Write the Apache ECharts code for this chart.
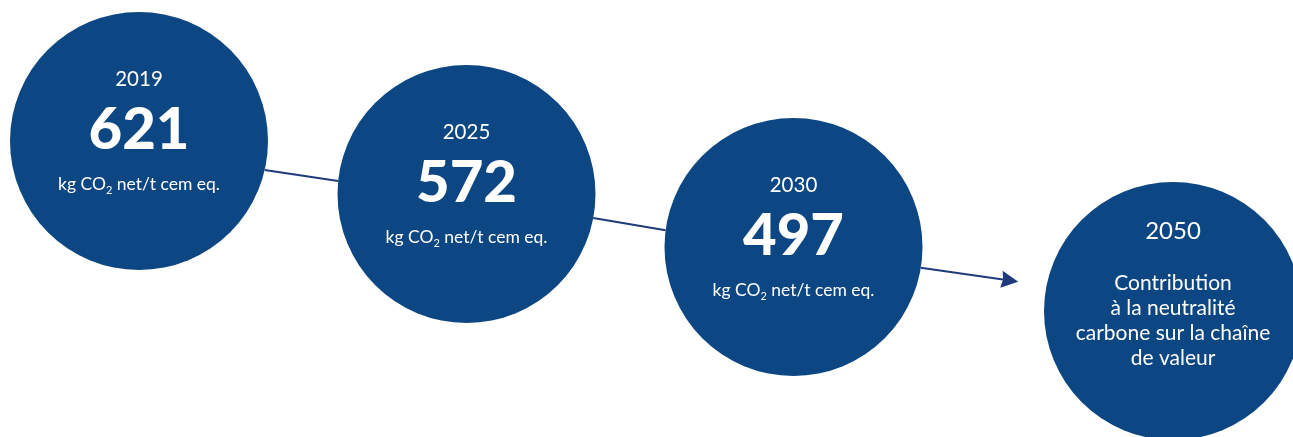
<!DOCTYPE html>
<html>
<head>
<meta charset="utf-8">
<script src="https://cdn.jsdelivr.net/npm/echarts@6/dist/echarts.min.js"></script>
<style>
  html, body { margin: 0; padding: 0; background: #ffffff; }
  #chart { width: 1293px; height: 437px; }
</style>
</head>
<body>
<div id="chart"></div>
<script>
// Milestones: net CO2 intensity per tonne of cementitious product
const years = ['2019', '2025', '2030', '2050'];
const intensity = [621, 572, 497, null];
const unitPrefix = 'kg CO';
const unitSub = '2';
const unitSuffix = ' net/t cem eq.';
const goalLines = ['Contribution', 'à la neutralité', 'carbone sur la chaîne', 'de valeur'];

// Layout of the stepped path, in canvas units (x right, y down)
const nodeX = [139, 466.5, 793.5, 1173];
const nodeY = [141, 194, 247, 311];
const RADIUS = 129;
// Each connector leaves one circle and reaches the next at the given angles (degrees);
// the last one stops short of its circle and ends in an arrowhead.
const connectors = [
  { from: 0, to: 1, a0: 13.0, a1: 185.8, gap: 0 },
  { from: 1, to: 2, a0: 10.7, a1: 187.5, gap: 0 },
  { from: 2, to: 3, a0: 9.3, a1: 190.6, gap: 37 }
];

const FILL = '#0d4783';
const LINE = '#1d3b7b';
const FONT = 'Lato, "Open Sans", sans-serif';

function rimPoint(i, deg, gap) {
  const a = deg * Math.PI / 180;
  const r = RADIUS + gap;
  return [nodeX[i] + r * Math.cos(a), nodeY[i] + r * Math.sin(a)];
}

const nodes = years.map((y, i) => {
  const item = { value: [nodeX[i], nodeY[i]], name: y };
  if (intensity[i] == null) {
    item.label = {
      offset: [0, -30],
      formatter: ['{y4|' + y + '}'].concat(goalLines.map(t => '{g|' + t + '}')).join('\n')
    };
  } else {
    item.label = {
      offset: [0, -8.5],
      formatter: '{y|' + y + '}\n{big|' + intensity[i] + '}\n{u|' + unitPrefix + '}{sub|' + unitSub + '}{u|' + unitSuffix + '}'
    };
  }
  return item;
});

const plainLinks = connectors.filter(c => c.gap === 0).map(c => ({
  coords: [rimPoint(c.from, c.a0, 0), rimPoint(c.to, c.a1, 0)]
}));
const arrowLinks = connectors.filter(c => c.gap > 0).map(c => ({
  coords: [rimPoint(c.from, c.a0, 0), rimPoint(c.to, c.a1, c.gap)]
}));

const chart = echarts.init(document.getElementById('chart'), null, { renderer: 'canvas' });
chart.setOption({
  animation: false,
  backgroundColor: '#ffffff',
  grid: { left: 0, right: 0, top: 0, bottom: 0 },
  xAxis: { type: 'value', min: 0, max: 1293, show: false },
  yAxis: { type: 'value', min: 0, max: 437, inverse: true, show: false },
  series: [
    {
      type: 'lines',
      coordinateSystem: 'cartesian2d',
      z: 1,
      silent: true,
      symbol: ['none', 'none'],
      lineStyle: { color: LINE, width: 2, opacity: 1, curveness: 0 },
      data: plainLinks
    },
    {
      type: 'lines',
      coordinateSystem: 'cartesian2d',
      z: 1,
      silent: true,
      symbol: ['none', 'path://M5,0 L10,12 L5,10.8 L0,12 Z'],
      symbolSize: [30, 17],
      lineStyle: { color: LINE, width: 2, opacity: 1, curveness: 0 },
      data: arrowLinks
    },
    {
      type: 'scatter',
      z: 2,
      silent: true,
      clip: false,
      symbol: 'circle',
      symbolSize: RADIUS * 2,
      itemStyle: { color: FILL, opacity: 1 },
      label: {
        show: true,
        position: 'inside',
        color: '#ffffff',
        fontFamily: FONT,
        align: 'center',
        rich: {
          y: { fontSize: 20.5, lineHeight: 36, color: '#ffffff', fontFamily: FONT, fontWeight: 400, align: 'center' },
          big: { fontSize: 58, lineHeight: 67, color: '#ffffff', fontFamily: FONT, fontWeight: 900, align: 'center' },
          u: { fontSize: 17.5, lineHeight: 40, color: '#ffffff', fontFamily: FONT, fontWeight: 400 },
          sub: { fontSize: 11, lineHeight: 40, color: '#ffffff', fontFamily: FONT, padding: [12, 0, 0, 0] },
          y4: { fontSize: 24, lineHeight: 79, color: '#ffffff', fontFamily: FONT, fontWeight: 400, align: 'center' },
          g: { fontSize: 21, lineHeight: 25, color: '#ffffff', fontFamily: FONT, fontWeight: 400, align: 'center' }
        }
      },
      data: nodes
    }
  ]
});
</script>
</body>
</html>
